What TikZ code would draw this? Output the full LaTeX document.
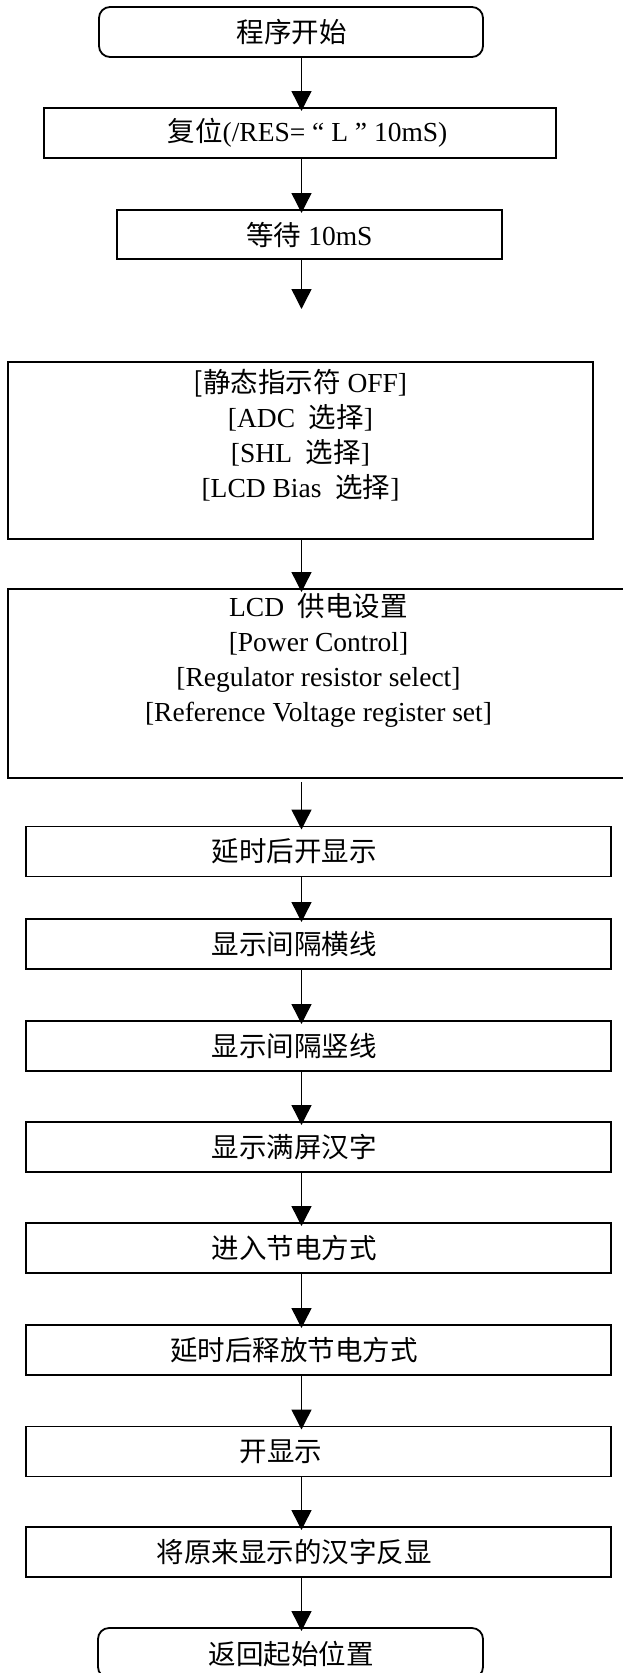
\documentclass[tikz,border=0pt]{standalone}
\usepackage{fontspec}
\setmainfont{Liberation Serif}
\newfontfamily\cjk{Noto Sans CJK SC}
\usetikzlibrary{arrows.meta}
\tikzset{
  box/.style={draw=black, line width=1.8pt, inner sep=0pt, outer sep=0pt, fill=none},
  term/.style={box, rounded corners=11pt},
  txt/.style={font=\fontsize{27.5}{35}\selectfont, align=center, inner sep=0pt, text=black},
  ctxt/.style={font=\cjk\fontsize{27.5}{35}\selectfont, align=center, inner sep=0pt, text=black},
  flow/.style={draw=black, line width=1.4pt, -{Triangle[length=20pt,width=20pt]}, shorten >=-3pt}
}
\begin{document}
\begin{tikzpicture}[x=1pt,y=-1pt]
\useasboundingbox (0,0) rectangle (622,1673);
\fill[white] (0,0) rectangle (622,1673);
\coordinate (ax) at (301.5,0);

% boxes
\node[term, minimum width=384pt, minimum height=50pt] (b1) at (291,32) {};
\node[box, minimum width=512pt, minimum height=50pt] (b2) at (300,133) {};
\node[box, minimum width=385pt, minimum height=49pt] (b3) at (309.5,234.5) {};
\coordinate (free) at (301.5,309);
\node[box, minimum width=585pt, minimum height=177pt] (b4) at (300.5,450.5) {};
\node[box, minimum width=622pt, minimum height=189pt] (b5) at (319,683.5) {};
\node[box, minimum width=585pt, minimum height=50pt] (b6) at (318.5,851.5) {};
\node[box, minimum width=585pt, minimum height=50pt] (b7) at (318.5,944) {};
\node[box, minimum width=585pt, minimum height=50pt] (b8) at (318.5,1046) {};
\node[box, minimum width=585pt, minimum height=50pt] (b9) at (318.5,1147) {};
\node[box, minimum width=585pt, minimum height=50pt] (b10) at (318.5,1248) {};
\node[box, minimum width=585pt, minimum height=50pt] (b11) at (318.5,1350) {};
\node[box, minimum width=585pt, minimum height=50pt] (b12) at (318.5,1451.5) {};
\node[box, minimum width=585pt, minimum height=50pt] (b13) at (318.5,1552) {};
\node[term, minimum width=385pt, minimum height=50pt] (b14) at (290.5,1653) {};

% texts
\node[ctxt] (t1) at (291.5,32) {程序开始};
\node[txt] (t2) at (307.5,133) {{\cjk 复位}(/RES= “ L ” 10mS)};
\node[txt] (t3) at (309.5,234.5) {{\cjk 等待} 10mS};
\node[txt] (t4) at (300.5,435) {{\cjk [静态指示符} OFF]\\{[}ADC\hspace{0.5em}{\cjk 选择}]\\{[}SHL\hspace{0.5em}{\cjk 选择}]\\{[}LCD Bias\hspace{0.5em}{\cjk 选择}]};
\node[txt] (t5) at (318.5,660.5) {LCD\hspace{0.5em}{\cjk 供电设置}\\{[}Power Control]\\{[}Regulator resistor select]\\{[}Reference Voltage register set]};
\node[ctxt] (t6) at (294,851.5) {延时后开显示};
\node[ctxt] (t7) at (294,944) {显示间隔横线};
\node[ctxt] (t8) at (294,1046) {显示间隔竖线};
\node[ctxt] (t9) at (294,1147) {显示满屏汉字};
\node[ctxt] (t10) at (294,1248) {进入节电方式};
\node[ctxt] (t11) at (294,1350) {延时后释放节电方式};
\node[ctxt] (t12) at (281,1451.5) {开显示};
\node[ctxt] (t13) at (294,1552) {将原来显示的汉字反显};
\node[ctxt] (t14) at (291,1654) {返回起始位置};

% connectors
\draw[flow] (b1.south -| ax) -- (b2.north -| ax);
\draw[flow] (b2.south -| ax) -- (b3.north -| ax);
\draw[flow, shorten >=0pt] (b3.south -| ax) -- (free);
\draw[flow] (b4.south -| ax) -- (b5.north -| ax);
\draw[flow, shorten <=4pt] (b5.south -| ax) -- (b6.north -| ax);
\draw[flow] (b6.south -| ax) -- (b7.north -| ax);
\draw[flow] (b7.south -| ax) -- (b8.north -| ax);
\draw[flow] (b8.south -| ax) -- (b9.north -| ax);
\draw[flow] (b9.south -| ax) -- (b10.north -| ax);
\draw[flow] (b10.south -| ax) -- (b11.north -| ax);
\draw[flow] (b11.south -| ax) -- (b12.north -| ax);
\draw[flow] (b12.south -| ax) -- (b13.north -| ax);
\draw[flow] (b13.south -| ax) -- (b14.north -| ax);
\end{tikzpicture}
\end{document}
